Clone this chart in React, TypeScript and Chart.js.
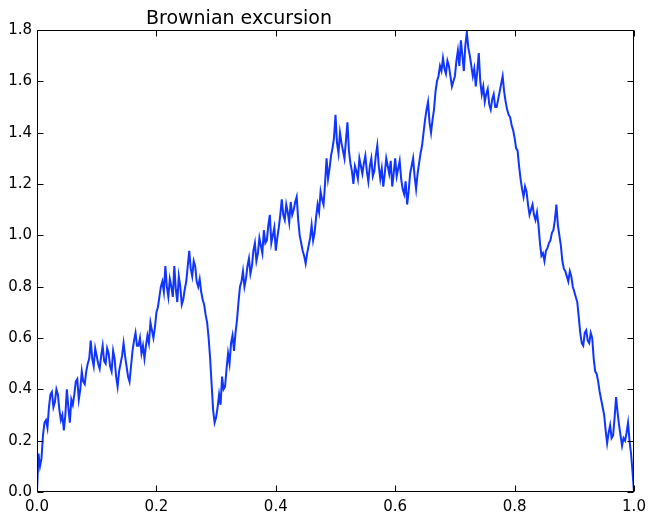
import React, { useEffect, useRef } from "react";
import { Chart, registerables } from "chart.js";

Chart.register(...registerables);

const TITLE = "Brownian excursion";
const X_TICKS = [0, 0.2, 0.4, 0.6, 0.8, 1.0];
const Y_TICKS = [0, 0.2, 0.4, 0.6, 0.8, 1.0, 1.2, 1.4, 1.6, 1.8];

const excursionValues = [
  0.0, 0.15, 0.1, 0.13, 0.22, 0.27, 0.28, 0.25, 0.33, 0.38, 0.39, 0.33, 0.35, 0.40, 0.38, 0.32, 0.28, 0.30, 0.24, 0.30,
  0.4, 0.33, 0.27, 0.36, 0.34, 0.38, 0.43, 0.44, 0.36, 0.40, 0.47, 0.43, 0.42, 0.47, 0.5, 0.52, 0.59, 0.52, 0.49, 0.56,
  0.53, 0.50, 0.48, 0.53, 0.57, 0.51, 0.5, 0.56, 0.54, 0.49, 0.47, 0.55, 0.52, 0.45, 0.41, 0.47, 0.5, 0.53, 0.58, 0.53,
  0.49, 0.45, 0.43, 0.49, 0.55, 0.59, 0.62, 0.57, 0.57, 0.60, 0.54, 0.57, 0.52, 0.57, 0.61, 0.58, 0.66, 0.63, 0.6, 0.64,
  0.7, 0.72, 0.76, 0.80, 0.82, 0.78, 0.88, 0.80, 0.76, 0.83, 0.8, 0.76, 0.88, 0.79, 0.74, 0.84, 0.8, 0.73, 0.75, 0.79,
  0.82, 0.88, 0.94, 0.87, 0.84, 0.90, 0.88, 0.82, 0.8, 0.83, 0.78, 0.75, 0.73, 0.69, 0.66, 0.60, 0.52, 0.42, 0.32, 0.27,
  0.29, 0.33, 0.38, 0.34, 0.45, 0.40, 0.41, 0.48, 0.54, 0.50, 0.58, 0.61, 0.55, 0.62, 0.67, 0.74, 0.8, 0.82, 0.86, 0.80,
  0.83, 0.88, 0.91, 0.85, 0.88, 0.94, 0.97, 0.90, 0.93, 0.99, 0.96, 0.93, 1.02, 0.97, 0.98, 1.04, 1.08, 0.97, 1.0, 1.03,
  0.94, 0.99, 1.03, 1.08, 1.14, 1.08, 1.06, 1.12, 1.09, 1.05, 1.13, 1.08, 1.1, 1.13, 1.15, 1.06, 1.0, 0.97, 0.94, 0.92,
  0.89, 0.93, 0.96, 0.99, 1.04, 0.98, 1.01, 1.07, 1.12, 1.09, 1.17, 1.14, 1.12, 1.20, 1.3, 1.22, 1.26, 1.31, 1.34, 1.38,
  1.47, 1.36, 1.32, 1.40, 1.36, 1.33, 1.3, 1.37, 1.44, 1.33, 1.28, 1.25, 1.2, 1.27, 1.25, 1.22, 1.3, 1.27, 1.24, 1.28,
  1.31, 1.25, 1.21, 1.27, 1.3, 1.23, 1.25, 1.31, 1.35, 1.27, 1.22, 1.26, 1.19, 1.24, 1.3, 1.27, 1.24, 1.29, 1.19, 1.24,
  1.3, 1.23, 1.26, 1.29, 1.22, 1.18, 1.16, 1.21, 1.12, 1.17, 1.24, 1.27, 1.3, 1.23, 1.18, 1.24, 1.28, 1.32, 1.35, 1.40,
  1.45, 1.49, 1.52, 1.44, 1.4, 1.45, 1.49, 1.56, 1.6, 1.62, 1.66, 1.64, 1.69, 1.65, 1.63, 1.68, 1.66, 1.62, 1.58, 1.60,
  1.62, 1.68, 1.72, 1.66, 1.76, 1.70, 1.64, 1.74, 1.79, 1.73, 1.7, 1.66, 1.62, 1.65, 1.58, 1.64, 1.71, 1.60, 1.55, 1.58,
  1.52, 1.55, 1.57, 1.51, 1.49, 1.53, 1.55, 1.50, 1.5, 1.53, 1.56, 1.59, 1.62, 1.56, 1.52, 1.49, 1.47, 1.46, 1.43, 1.41,
  1.38, 1.34, 1.33, 1.27, 1.22, 1.18, 1.15, 1.19, 1.17, 1.12, 1.08, 1.10, 1.12, 1.08, 1.06, 1.09, 1.04, 0.97, 0.92, 0.93,
  0.9, 0.94, 0.95, 0.97, 0.98, 1.01, 1.02, 1.06, 1.12, 1.04, 1.0, 0.96, 0.9, 0.87, 0.86, 0.84, 0.82, 0.86, 0.84, 0.80,
  0.78, 0.76, 0.74, 0.68, 0.62, 0.58, 0.57, 0.62, 0.63, 0.59, 0.58, 0.62, 0.6, 0.52, 0.47, 0.46, 0.43, 0.39, 0.36, 0.33,
  0.3, 0.24, 0.19, 0.23, 0.26, 0.21, 0.22, 0.29, 0.37, 0.31, 0.26, 0.22, 0.18, 0.21, 0.2, 0.23, 0.27, 0.20, 0.15, 0.08,
  0.0,
];

const LINE_COLOR = "#1035ff";
const FONT = '"DejaVu Sans", sans-serif';

const framePlugin = {
  id: "frameTicks",
  afterDatasetsDraw(chart: any) {
    const { ctx, chartArea: a, scales } = chart;
    const x = scales.x;
    const y = scales.y;
    const L = Math.round(a.left) + 0.5;
    const R = Math.round(a.right) - 0.5;
    const T = Math.round(a.top) + 0.5;
    const B = Math.round(a.bottom) - 0.5;
    ctx.save();
    ctx.strokeStyle = "#000";
    ctx.lineWidth = 1;
    ctx.strokeRect(L, T, R - L, B - T);
    const len = 6;
    ctx.beginPath();
    X_TICKS.forEach((v) => {
      const px = Math.round(x.getPixelForValue(v)) + 0.5;
      ctx.moveTo(px, B);
      ctx.lineTo(px, B - len);
      ctx.moveTo(px, T);
      ctx.lineTo(px, T + len);
    });
    Y_TICKS.forEach((v) => {
      const py = Math.round(y.getPixelForValue(v)) + 0.5;
      ctx.moveTo(L, py);
      ctx.lineTo(L + len, py);
      ctx.moveTo(R, py);
      ctx.lineTo(R - len, py);
    });
    ctx.stroke();
    ctx.restore();
  },
  afterDraw(chart: any) {
    const { ctx } = chart;
    ctx.save();
    ctx.fillStyle = "#000";
    ctx.font = `19px ${FONT}`;
    ctx.textAlign = "center";
    ctx.textBaseline = "alphabetic";
    ctx.fillText(TITLE, 239, 24);
    ctx.restore();
  },
};

export default function App() {
  const ref = useRef<HTMLCanvasElement | null>(null);

  useEffect(() => {
    if (!ref.current) return;
    const n = excursionValues.length;
    const points = excursionValues.map((v, i) => ({ x: i / (n - 1), y: v }));
    const chart = new Chart(ref.current, {
      type: "line",
      data: {
        datasets: [
          {
            data: points,
            borderColor: LINE_COLOR,
            borderWidth: 2,
            pointRadius: 0,
            tension: 0,
            fill: false,
          },
        ],
      },
      options: {
        responsive: false,
        animation: false,
        layout: { padding: { top: 30, right: 14, left: 0, bottom: 0 } },
        plugins: {
          legend: { display: false },
          tooltip: { enabled: false },
          title: { display: false },
        },
        scales: {
          x: {
            type: "linear",
            min: 0,
            max: 1,
            afterBuildTicks: (s: any) => {
              s.ticks = X_TICKS.map((v) => ({ value: v }));
            },
            afterFit: (s: any) => {
              s.height = 21;
              s.paddingLeft = 0;
              s.paddingRight = 0;
            },
            grid: { display: false, drawTicks: false },
            border: { display: false },
            ticks: {
              color: "#000",
              padding: 6,
              maxRotation: 0,
              font: { family: FONT, size: 15 },
              callback: (v: any) => Number(v).toFixed(1),
            },
          },
          y: {
            type: "linear",
            min: 0,
            max: 1.8,
            afterBuildTicks: (s: any) => {
              s.ticks = Y_TICKS.map((v) => ({ value: v }));
            },
            afterFit: (s: any) => {
              s.width = 37;
              s.paddingTop = 0;
              s.paddingBottom = 0;
            },
            grid: { display: false, drawTicks: false },
            border: { display: false },
            ticks: {
              color: "#000",
              padding: 5,
              font: { family: FONT, size: 15 },
              callback: (v: any) => Number(v).toFixed(1),
            },
          },
        },
      },
      plugins: [framePlugin],
    });
    return () => chart.destroy();
  }, []);

  return (
    <div style={{ position: "absolute", left: 0, top: 0, width: 648, height: 513, background: "#fff" }}>
      <canvas ref={ref} width={648} height={513} style={{ display: "block" }} />
    </div>
  );
}
